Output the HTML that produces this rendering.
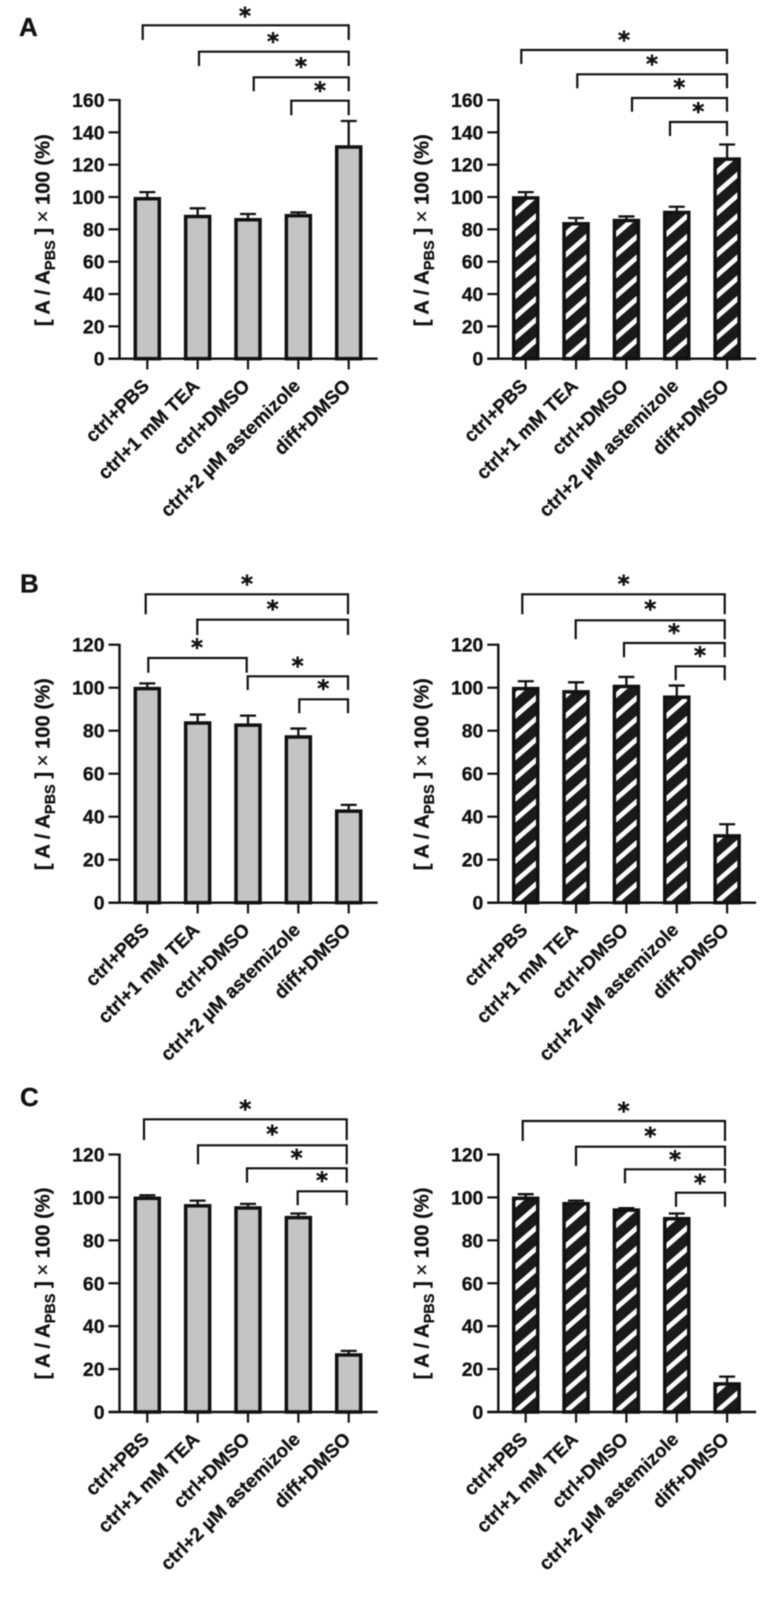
<!DOCTYPE html>
<html lang="en">
<head>
<meta charset="utf-8">
<title>Relative absorbance bar charts</title>
<style>
html,body{margin:0;padding:0;background:#fff;}
svg{display:block;filter:blur(0.45px);}
text{font-family:"Liberation Sans",Arial,sans-serif;font-weight:bold;fill:#111;stroke:#111;stroke-width:0.3px;}
.tick{font-size:19.4px;}
.xlab{font-size:19.1px;}
.ytitle{font-size:20.2px;}
.star{font-family:"DejaVu Sans",sans-serif;font-size:23px;text-anchor:middle;stroke-width:0.5px;}
.letter{font-size:26px;}
</style>
</head>
<body>
<svg id="fig" width="770" height="1597" viewBox="0 0 770 1597" xmlns="http://www.w3.org/2000/svg">
<defs id="defs"></defs>
<rect width="770" height="1597" fill="#fff"/>
<text class="letter" x="19" y="36">A</text>
<text class="letter" x="20" y="592.5">B</text>
<text class="letter" x="20" y="1106">C</text>
</svg>
<script>
const categories = ['ctrl+PBS', 'ctrl+1 mM TEA', 'ctrl+DMSO', 'ctrl+2 µM astemizole', 'diff+DMSO'];
const ticksA = [0, 20, 40, 60, 80, 100, 120, 140, 160];
const ticksBC = [0, 20, 40, 60, 80, 100, 120];

const meansAGray = [99.5, 88.5, 86.5, 89, 131.5];
const upperAGray = [103, 93, 89.5, 90.5, 147];
const meansAHatch = [100, 84, 86, 91, 124];
const upperAHatch = [103, 87, 88, 94, 132.5];

const meansBGray = [100, 84, 83, 77.5, 43];
const upperBGray = [102, 87.5, 87, 81, 45.5];
const meansBHatch = [100, 98.5, 101, 96, 31.5];
const upperBHatch = [103, 102.5, 105, 101, 36.5];

const meansCGray = [100, 96.5, 95.5, 91, 27];
const upperCGray = [101, 98.5, 97, 92.5, 28.5];
const meansCHatch = [100, 97.5, 94.5, 90.5, 13.5];
const upperCHatch = [101.5, 98.5, 95, 92.5, 16.5];

const svg = document.getElementById('fig');
const defs = document.getElementById('defs');
const NS = 'http://www.w3.org/2000/svg';
const INK = '#111';
let clipCount = 0;

function mk(parent, tag, attrs, txt) {
  const el = document.createElementNS(NS, tag);
  for (const k in attrs) el.setAttribute(k, attrs[k]);
  if (txt !== undefined) el.textContent = txt;
  parent.appendChild(el);
  return el;
}

function drawStripes(g, cx, top, baseY, barW) {
  const id = 'bar-clip-' + (clipCount++);
  const cp = mk(defs, 'clipPath', {id: id});
  mk(cp, 'rect', {x: cx - barW / 2, y: top, width: barW, height: baseY - top});
  const spacing = 20.7;
  const slope = 0.87;
  const half = barW / 2 + 4;
  let d = '';
  for (let yc = baseY - 9.4 + spacing; yc - half * slope > top - spacing; yc -= spacing) {
    d += 'M' + (cx - half) + ' ' + (yc + half * slope) + 'L' + (cx + half) + ' ' + (yc - half * slope);
  }
  const s = mk(g, 'path', {d: d, fill: 'none', stroke: '#fff', 'stroke-width': 4.8, 'clip-path': 'url(#' + id + ')'});
  
  
}

function drawPanel(name, axisX, firstTick, baseY, plotH, yMax, ticks, means, upper, hatched) {
  const step = 50.35;
  const barW = 24;
  const capW = 16;
  const xScale = i => firstTick + i * step;
  const yScale = v => baseY - (v / yMax) * plotH;
  const xEnd = xScale(categories.length - 1) + 29;

  const g = mk(svg, 'g', {});
  
  

  // y axis title
  const tx = axisX - 70;
  const ty = baseY - 128.5;
  const title = mk(g, 'text', {class: 'ytitle', 'text-anchor': 'middle', x: tx, y: ty, transform: 'rotate(-90 ' + tx + ' ' + ty + ')'});
  
  
  mk(title, 'tspan', {}, '[ A / A');
  mk(title, 'tspan', {'font-size': '14.5px', dy: '5.5'}, 'PBS');
  mk(title, 'tspan', {dy: '-5.5'}, ' ] ');
  mk(title, 'tspan', {'font-weight': 'normal'}, '×');
  mk(title, 'tspan', {}, ' 100 (%)');

  // bars and error bars
  means.forEach((m, i) => {
    const cx = xScale(i);
    const top = yScale(m) + 0.9;
    const capY = yScale(upper[i]);

    const err = mk(g, 'path', {d: 'M' + cx + ' ' + top + 'V' + capY + 'M' + (cx - capW / 2) + ' ' + capY + 'H' + (cx + capW / 2), fill: 'none', stroke: INK, 'stroke-width': 2.3});
    
    

    const fillRect = mk(g, 'rect', {x: cx - barW / 2, y: top, width: barW, height: baseY - top, fill: hatched ? '#1a1a1a' : '#c4c4c4'});
    
    

    if (hatched) drawStripes(g, cx, top, baseY, barW);

    const bar = mk(g, 'rect', {x: cx - barW / 2, y: top, width: barW, height: baseY - top, fill: 'none', stroke: INK, 'stroke-width': 3.5});
    
    

    const tick = mk(g, 'line', {x1: cx, x2: cx, y1: baseY, y2: baseY + 10.7, stroke: INK, 'stroke-width': 2.2});
    
    

    const px = cx + 3;
    const py = baseY + 28.5;
    const lab = mk(g, 'text', {class: 'xlab', 'text-anchor': 'end', x: px, y: py, transform: 'rotate(-44.5 ' + px + ' ' + py + ')'}, categories[i]);
    
    
  });

  // y axis + ticks
  const yAxis = mk(g, 'line', {x1: axisX, x2: axisX, y1: yScale(yMax) - 1, y2: baseY, stroke: INK, 'stroke-width': 2.4});
  
  

  const xAxis = mk(g, 'line', {x1: axisX - 11, x2: xEnd, y1: baseY, y2: baseY, stroke: INK, 'stroke-width': 2.4});
  
  

  ticks.forEach(v => {
    const y = yScale(v);
    const t = mk(g, 'line', {x1: axisX - 11, x2: axisX, y1: y, y2: y, stroke: INK, 'stroke-width': 2.2});
    
    

    const l = mk(g, 'text', {class: 'tick', 'text-anchor': 'end', x: axisX - 15, y: y + 7}, String(v));
    
    
  });
}

function bracket(x1, x2, top, bottom, starX, starY) {
  const g = mk(svg, 'g', {});
  
  
  const p = mk(g, 'path', {d: 'M' + x1 + ' ' + bottom + 'V' + top + 'H' + x2 + 'V' + bottom, fill: 'none', stroke: '#111', 'stroke-width': 2.2});
  
  
  const s = mk(g, 'text', {class: 'star', x: starX, y: starY + 11.5}, '*');
  
  
}

drawPanel('panel-a-gray', 119.5, 147.3, 358.7, 258.7, 160, ticksA, meansAGray, upperAGray, false);
drawPanel('panel-a-hatched', 498.3, 525.7, 358.7, 258.7, 160, ticksA, meansAHatch, upperAHatch, true);
drawPanel('panel-b-gray', 119.5, 147.3, 902.7, 258, 120, ticksBC, meansBGray, upperBGray, false);
drawPanel('panel-b-hatched', 498.3, 525.7, 902.7, 258, 120, ticksBC, meansBHatch, upperBHatch, true);
drawPanel('panel-c-gray', 119.5, 147.3, 1412, 257.5, 120, ticksBC, meansCGray, upperCGray, false);
drawPanel('panel-c-hatched', 498.3, 525.7, 1412, 257.5, 120, ticksBC, meansCHatch, upperCHatch, true);

bracket(142.7, 348.7, 25.3, 40, 245, 12.7);
bracket(199, 348.7, 51.7, 66, 273, 38);
bracket(253.7, 348.7, 77.3, 91.3, 301, 63);
bracket(291.3, 348.7, 100.7, 115.3, 320, 87);

bracket(521.3, 727, 50, 64, 624, 36.7);
bracket(577.3, 727, 74.3, 88.3, 652, 60.3);
bracket(632, 727, 98, 111.7, 679.3, 84);
bracket(670, 727, 122, 136, 698.3, 108);

bracket(145.7, 348, 594.3, 614.3, 247, 580.7);
bracket(197.3, 348, 619.7, 635, 272.7, 605.7);
bracket(148.3, 246.7, 658, 672.7, 197, 644);
bracket(247.7, 348, 676.3, 690, 297.7, 662.3);
bracket(299.3, 348, 699.3, 713.3, 323.3, 685);

bracket(522.3, 724.7, 594.3, 614.3, 623.7, 580.7);
bracket(575.7, 724.7, 620.3, 639.3, 650.3, 605.7);
bracket(624, 724.7, 643, 657.3, 674, 629);
bracket(675.7, 724.7, 666.3, 680.3, 700, 652);

bracket(144, 346.7, 1119.3, 1140, 245.3, 1105.7);
bracket(198, 346.7, 1145.3, 1164.3, 272.3, 1130.7);
bracket(247, 346.7, 1168.3, 1182.7, 296.7, 1154.3);
bracket(297.7, 346.7, 1191.3, 1205.3, 322, 1177);

bracket(522.7, 725, 1121, 1141, 623.7, 1107.3);
bracket(576, 725, 1146.7, 1166, 650.3, 1132.7);
bracket(625, 725, 1169.3, 1183.3, 675, 1156);
bracket(676, 725, 1192.7, 1206.7, 700, 1179.3);
</script>
</body>
</html>
